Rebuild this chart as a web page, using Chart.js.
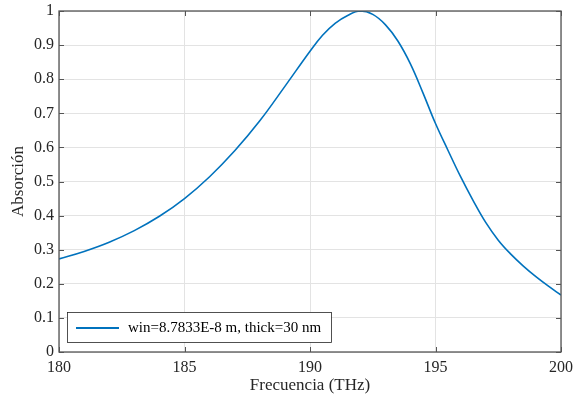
<!DOCTYPE html>
<html>
<head>
<meta charset="utf-8">
<script src="https://cdn.jsdelivr.net/npm/chart.js@4/dist/chart.umd.min.js"></script>
<style>
  body { margin: 0; background: #fff; }
</style>
</head>
<body>
<canvas id="chartId" width="575" height="402"></canvas>
<script>
// absorption spectrum, read each THz and every half THz from the peak down
const freq = [180, 181, 182, 183, 184, 185, 186, 187, 188, 189, 190, 190.5, 191, 191.5, 192, 192.5, 193, 193.5, 194, 194.5, 195, 195.5, 196, 196.5, 197, 197.5, 198, 198.5, 199, 199.5, 200];
const absorption = [0.273, 0.295, 0.322, 0.356, 0.398, 0.450, 0.514, 0.590, 0.678, 0.779, 0.882, 0.929, 0.964, 0.987, 1.0, 0.990, 0.960, 0.912, 0.845, 0.760, 0.670, 0.591, 0.514, 0.444, 0.380, 0.328, 0.287, 0.252, 0.221, 0.193, 0.167];
const xTicks = [180, 185, 190, 195, 200];
const yTicks = [0, 0.1, 0.2, 0.3, 0.4, 0.5, 0.6, 0.7, 0.8, 0.9, 1];
const seriesLabel = 'win=8.7833E-8 m, thick=30 nm';

const serif = "'Liberation Serif', 'DejaVu Serif', serif";
const textColor = '#262626';
const axisColor = '#555555';
const lineColor = '#0072BD';

var points = [];
for (let i = 0; i < freq.length; i++) {
  points.push({ x: freq[i], y: absorption[i] });
}

// box around the axes with inward ticks, matlab style
const frame = {
  id: 'frame',
  afterDatasetsDraw(chart) {
    const ctx = chart.ctx;
    const a = chart.chartArea;
    const xs = chart.scales.x, ys = chart.scales.y;
    const len = 5;
    ctx.save();
    ctx.strokeStyle = axisColor;
    ctx.lineWidth = 1;
    ctx.beginPath();
    xTicks.forEach(function (t) {
      const px = Math.round(xs.getPixelForValue(t)) + 0.5;
      ctx.moveTo(px, a.bottom); ctx.lineTo(px, a.bottom - len);
      ctx.moveTo(px, a.top); ctx.lineTo(px, a.top + len);
    });
    yTicks.forEach(function (t) {
      const py = Math.round(ys.getPixelForValue(t)) + 0.5;
      ctx.moveTo(a.left, py); ctx.lineTo(a.left + len, py);
      ctx.moveTo(a.right, py); ctx.lineTo(a.right - len, py);
    });
    ctx.stroke();
    ctx.lineWidth = 1.3;
    ctx.strokeRect(a.left, a.top, a.right - a.left, a.bottom - a.top);
    ctx.restore();
  }
};

// legend drawn inside the axes, lower left
const innerLegend = {
  id: 'innerLegend',
  afterDraw(chart) {
    const ctx = chart.ctx;
    const a = chart.chartArea;
    const x = a.left + 8, y = a.bottom - 40, w = 264, h = 30;
    ctx.save();
    ctx.fillStyle = '#ffffff';
    ctx.fillRect(x, y, w, h);
    ctx.strokeStyle = '#262626';
    ctx.lineWidth = 0.8;
    ctx.strokeRect(x + 0.5, y + 0.5, w, h);
    ctx.strokeStyle = lineColor;
    ctx.lineWidth = 2;
    ctx.beginPath();
    ctx.moveTo(x + 9, y + h / 2 + 1);
    ctx.lineTo(x + 52, y + h / 2 + 1);
    ctx.stroke();
    ctx.fillStyle = '#000000';
    ctx.font = '15px ' + serif;
    ctx.textBaseline = 'middle';
    ctx.fillText(chart.data.datasets[0].label, x + 61, y + h / 2 + 1);
    ctx.restore();
  }
};

var ctx = document.getElementById('chartId').getContext('2d');
var newChart = new Chart(ctx, {
  type: 'line',
  data: {
    datasets: [{
      label: seriesLabel,
      data: points,
      borderColor: lineColor,
      borderWidth: 1.6,
      pointRadius: 0,
      fill: false,
      tension: 0.4
    }]
  },
  options: {
    responsive: false,
    animation: false,
    layout: { padding: { left: 0, right: 14, top: 11, bottom: 0 } },
    plugins: {
      legend: { display: false },
      tooltip: { enabled: false }
    },
    scales: {
      x: {
        type: 'linear',
        min: 180,
        max: 200,
        afterBuildTicks: function (s) { s.ticks = xTicks.map(function (v) { return { value: v }; }); },
        afterFit: function (s) { s.height = 50; s.paddingLeft = 0; s.paddingRight = 0; },
        grid: { color: '#e3e3e3', drawTicks: false },
        border: { display: false },
        ticks: { color: textColor, padding: 6, font: { family: serif, size: 16 }, maxRotation: 0 },
        title: { display: true, text: 'Frecuencia (THz)', color: textColor, font: { family: serif, size: 17 }, padding: { top: 0, bottom: 6 } }
      },
      y: {
        min: 0,
        max: 1,
        afterBuildTicks: function (s) { s.ticks = yTicks.map(function (v) { return { value: v }; }); },
        afterFit: function (s) { s.width = 59; s.paddingTop = 0; s.paddingBottom = 0; },
        grid: { color: '#e3e3e3', drawTicks: false },
        border: { display: false },
        ticks: { color: textColor, padding: 5, font: { family: serif, size: 16 }, callback: function (v) { return String(Math.round(v * 10) / 10); } },
        title: { display: true, text: 'Absorción', color: textColor, font: { family: serif, size: 17 }, padding: { top: 8, bottom: 0 } }
      }
    }
  },
  plugins: [frame, innerLegend]
});
</script>
</body>
</html>
